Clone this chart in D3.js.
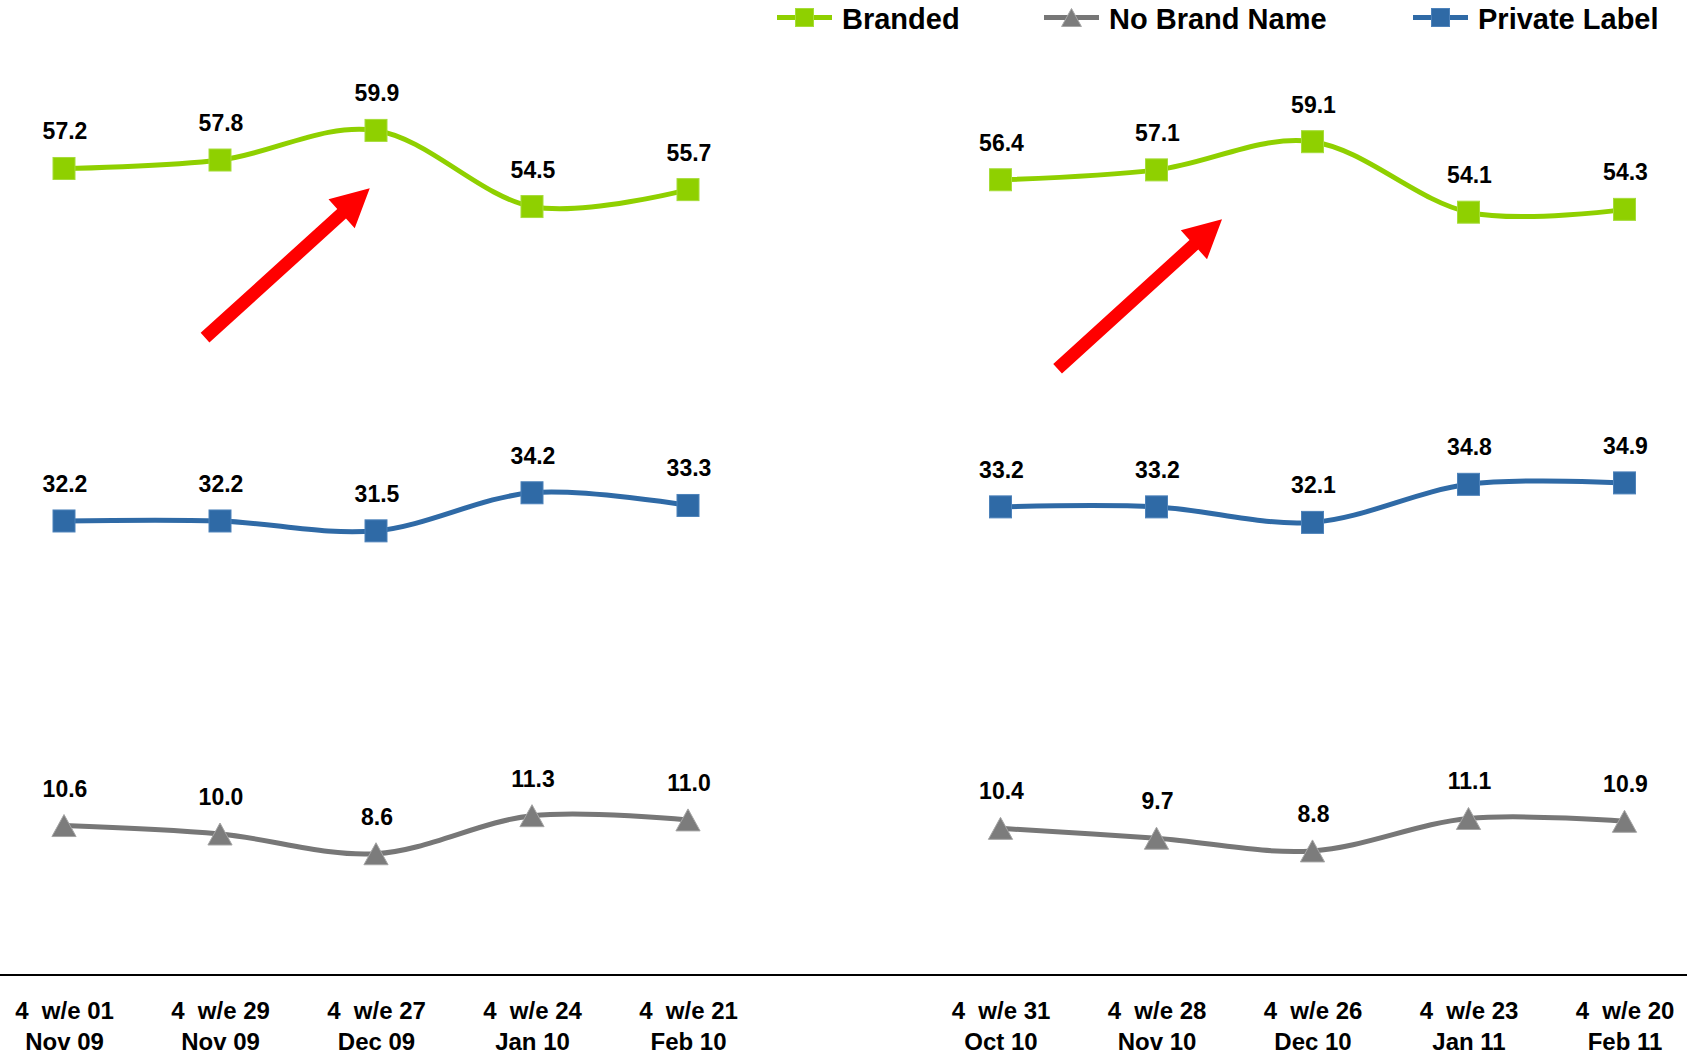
<!DOCTYPE html>
<html>
<head>
<meta charset="utf-8">
<script src="https://cdn.jsdelivr.net/npm/d3@7"></script>
<style>
  html, body { margin: 0; padding: 0; background: #fff; }
  svg { display: block; }
  text { font-family: "Liberation Sans", Arial, Helvetica, sans-serif; font-weight: bold; fill: #000; }
</style>
</head>
<body>
<svg id="chart" width="1687" height="1054"></svg>
<script>
// Periods (two-line tick labels) for the two comparison windows
const weeksA  = ["4  w/e 01", "4  w/e 29", "4  w/e 27", "4  w/e 24", "4  w/e 21"];
const monthsA = ["Nov 09", "Nov 09", "Dec 09", "Jan 10", "Feb 10"];
const weeksB  = ["4  w/e 31", "4  w/e 28", "4  w/e 26", "4  w/e 23", "4  w/e 20"];
const monthsB = ["Oct 10", "Nov 10", "Dec 10", "Jan 11", "Feb 11"];

// Share values (%) per series
const brandedA     = [57.2, 57.8, 59.9, 54.5, 55.7];
const privateA     = [32.2, 32.2, 31.5, 34.2, 33.3];
const noBrandA     = [10.6, 10.0, 8.6, 11.3, 11.0];
const brandedB     = [56.4, 57.1, 59.1, 54.1, 54.3];
const privateB     = [33.2, 33.2, 32.1, 34.8, 34.9];
const noBrandB     = [10.4, 9.7, 8.8, 11.1, 10.9];

const seriesNames  = ["Branded", "No Brand Name", "Private Label"];

const colors = {
  "Branded":       { line: "#8fd000", fill: "#8fd000", edge: "#a6dc3a", shape: "square" },
  "No Brand Name": { line: "#777777", fill: "#7c7c7c", edge: "#a5a5a5", shape: "triangle" },
  "Private Label": { line: "#2f6aa6", fill: "#2f6aa6", edge: "#4d82ba", shape: "square" }
};

const svg = d3.select("#chart");

// Shared value axis (hidden), zero sits on the baseline rule
const y = d3.scaleLinear().domain([0, 70]).range([975, -12]);

const panels = [
  { keys: weeksA.map((w, i) => w + "|" + monthsA[i]), range: [64, 688],
    data: { "Branded": brandedA, "No Brand Name": noBrandA, "Private Label": privateA },
    arrow: { from: [0.904, 45.2], to: [1.96, 55.8] } },
  { keys: weeksB.map((w, i) => w + "|" + monthsB[i]), range: [1000.5, 1624.5],
    data: { "Branded": brandedB, "No Brand Name": noBrandB, "Private Label": privateB },
    arrow: { from: [0.366, 43.0], to: [1.42, 53.6] } }
];

// Baseline rule across the full width
svg.append("line")
  .attr("x1", 0).attr("x2", 1687)
  .attr("y1", y(0)).attr("y2", y(0))
  .attr("stroke", "#000").attr("stroke-width", 2);

function drawMarker(g, shape, cx, cy, size, c) {
  if (shape === "square") {
    g.append("rect")
      .attr("x", cx - size / 2).attr("y", cy - size / 2)
      .attr("width", size).attr("height", size)
      .attr("fill", c.fill).attr("stroke", c.edge).attr("stroke-width", 1);
  } else {
    const h = size;
    g.append("path")
      .attr("d", `M${cx},${cy - h / 2} L${cx + size * 0.55},${cy + h / 2} L${cx - size * 0.55},${cy + h / 2} Z`)
      .attr("fill", c.fill).attr("stroke", c.edge).attr("stroke-width", 1);
  }
}

function arrowPoints(t, p, w, hw, hl) {
  const dx = p[0] - t[0], dy = p[1] - t[1];
  const len = Math.hypot(dx, dy);
  const ux = dx / len, uy = dy / len;
  const nx = -uy, ny = ux;
  const bx = p[0] - ux * hl, by = p[1] - uy * hl;
  return [
    [t[0] + nx * w / 2, t[1] + ny * w / 2],
    [bx + nx * w / 2, by + ny * w / 2],
    [bx + nx * hw / 2, by + ny * hw / 2],
    p,
    [bx - nx * hw / 2, by - ny * hw / 2],
    [bx - nx * w / 2, by - ny * w / 2],
    [t[0] - nx * w / 2, t[1] - ny * w / 2]
  ];
}

panels.forEach(panel => {
  const x = d3.scalePoint().domain(panel.keys).range(panel.range);
  const step = x.step();
  const g = svg.append("g");

  // Tick labels (two lines)
  const axis = d3.axisBottom(x).tickSize(0).tickFormat(() => "");
  const ax = g.append("g").attr("transform", `translate(0,${y(0)})`).call(axis);
  ax.select(".domain").remove();
  ax.selectAll(".tick").each(function (d) {
    const parts = d.split("|");
    const t = d3.select(this).select("text")
      .attr("y", 0).attr("dy", null)
      .style("font-size", "24px")
      .style("white-space", "pre")
      .attr("text-anchor", "middle");
    t.text(null);
    t.append("tspan").attr("x", 0).attr("y", 44).text(parts[0]);
    t.append("tspan").attr("x", 0).attr("y", 75).text(parts[1]);
  });

  // Series lines, markers and value labels
  ["Branded", "Private Label", "No Brand Name"].forEach(name => {
    const vals = panel.data[name];
    const c = colors[name];
    const line = d3.line()
      .x((d, i) => x(panel.keys[i]))
      .y(d => y(d))
      .curve(d3.curveCardinal.tension(0));
    g.append("path")
      .datum(vals)
      .attr("d", line)
      .attr("fill", "none")
      .attr("stroke", c.line)
      .attr("stroke-width", 5)
      .attr("stroke-linejoin", "round");
    vals.forEach((v, i) => {
      drawMarker(g, c.shape, x(panel.keys[i]), y(v), 22, c);
      g.append("text")
        .attr("x", x(panel.keys[i]) + 1)
        .attr("y", y(v) - 29)
        .attr("text-anchor", "middle")
        .style("font-size", "23px")
        .text(d3.format(".1f")(v));
    });
  });

  // Highlight arrow toward the December peak
  const a = panel.arrow;
  const pos = pt => [x(panel.keys[0]) + pt[0] * step, y(pt[1])];
  g.append("polygon")
    .attr("points", arrowPoints(pos(a.from), pos(a.to), 13, 39, 38).map(p => p.join(",")).join(" "))
    .attr("fill", "#ff0000");
});

// Legend
const legendItems = [
  { name: "Branded",       x0: 777 },
  { name: "No Brand Name", x0: 1044 },
  { name: "Private Label", x0: 1413 }
];
const lg = svg.append("g");
legendItems.forEach(item => {
  const c = colors[item.name];
  lg.append("line")
    .attr("x1", item.x0).attr("x2", item.x0 + 55)
    .attr("y1", 17.5).attr("y2", 17.5)
    .attr("stroke", c.line).attr("stroke-width", 5);
  drawMarker(lg, c.shape, item.x0 + 27.5, 17.5, 18, c);
  lg.append("text")
    .attr("x", item.x0 + 65)
    .attr("y", 29)
    .style("font-size", "29px")
    .text(item.name);
});
</script>
</body>
</html>
